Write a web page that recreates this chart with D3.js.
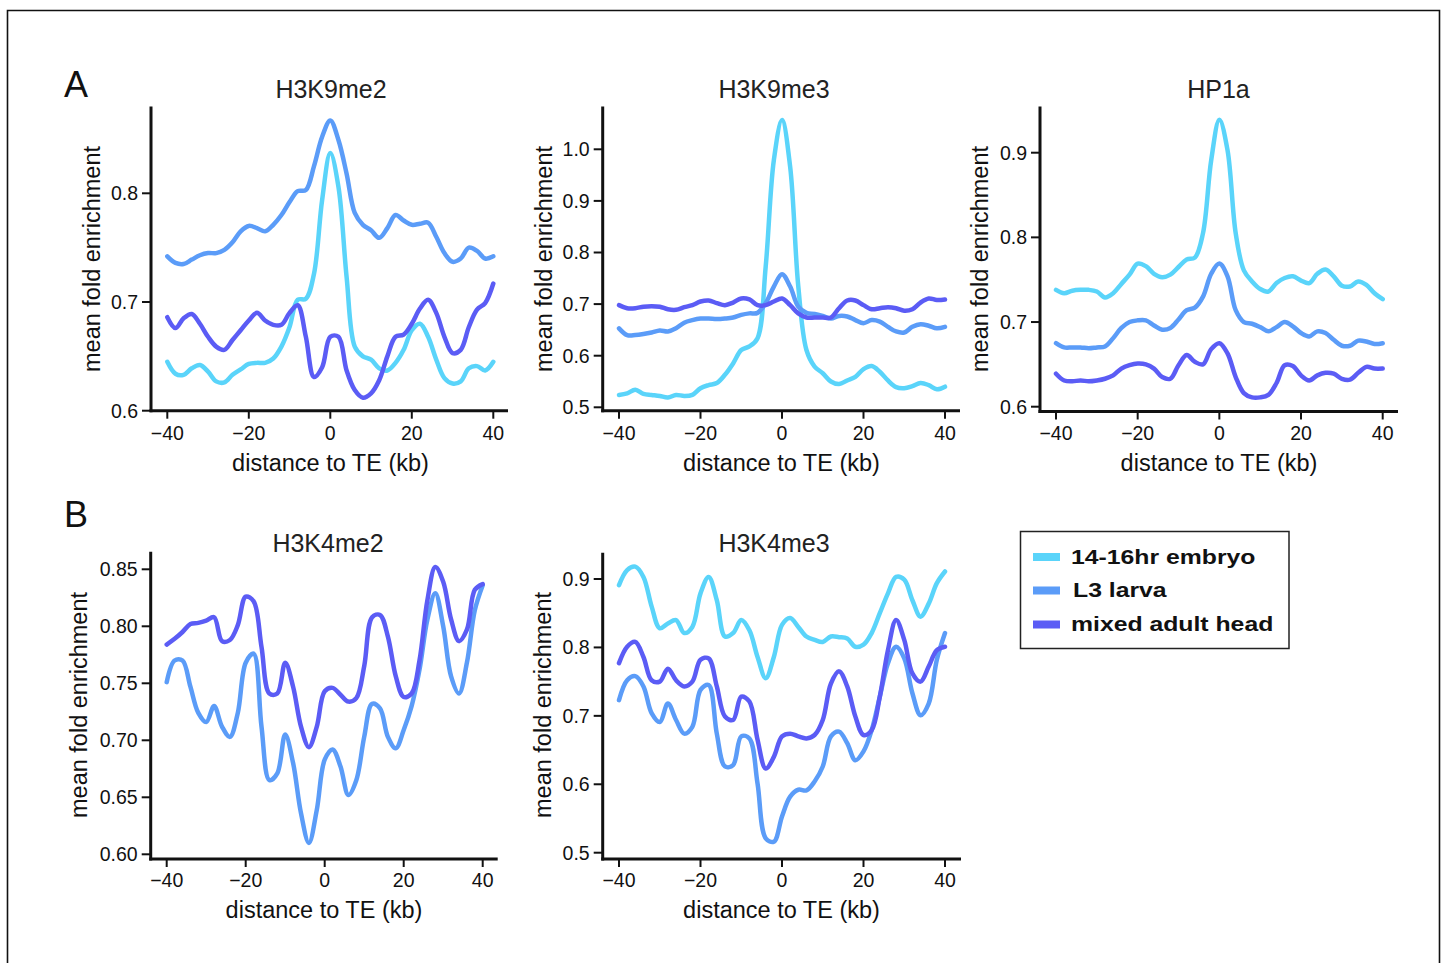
<!DOCTYPE html>
<html><head><meta charset="utf-8">
<script src="https://cdn.jsdelivr.net/npm/d3@7"></script>
<style>
html,body{margin:0;padding:0;background:#fff;}
svg{display:block;font-family:"Liberation Sans",Arial,Helvetica,sans-serif;}
</style></head><body>
<svg id="chart" width="1444" height="963"></svg>
<script>
// ---------------- DATA ----------------
const distanceKb = [-40,-38,-36,-34,-32,-30,-28,-26,-24,-22,-20,-18,-16,-14,-12,-10,-8,-6,-4,-2,0,2,4,6,8,10,12,14,16,18,20,22,24,26,28,30,32,34,36,38,40];
const seriesNames = ["14-16hr embryo","L3 larva","mixed adult head"];
const xTickValues = [-40,-20,0,20,40];
const xTickLabels = ["\u221240","\u221220","0","20","40"];

// H3K9me2
const h3k9me2_embryo = [0.645,0.634,0.633,0.639,0.642,0.636,0.627,0.626,0.633,0.638,0.643,0.644,0.644,0.648,0.659,0.677,0.702,0.703,0.726,0.794,0.837,0.806,0.723,0.659,0.650,0.647,0.639,0.637,0.644,0.656,0.674,0.680,0.668,0.647,0.630,0.625,0.627,0.639,0.641,0.637,0.645];
const h3k9me2_larva  = [0.742,0.736,0.735,0.739,0.743,0.745,0.745,0.748,0.755,0.765,0.770,0.768,0.765,0.771,0.780,0.792,0.802,0.803,0.825,0.852,0.867,0.849,0.818,0.782,0.771,0.766,0.759,0.768,0.780,0.775,0.771,0.772,0.773,0.760,0.745,0.737,0.740,0.750,0.747,0.740,0.742];
const h3k9me2_adult  = [0.686,0.676,0.685,0.689,0.680,0.668,0.659,0.656,0.665,0.674,0.683,0.690,0.683,0.679,0.679,0.690,0.697,0.668,0.631,0.640,0.668,0.668,0.637,0.619,0.612,0.616,0.628,0.650,0.668,0.670,0.680,0.694,0.702,0.690,0.668,0.653,0.656,0.677,0.693,0.699,0.717];
const h3k9me2_ticks = ["0.6","0.7","0.8"];

// H3K9me3
const h3k9me3_embryo = [0.524,0.527,0.534,0.526,0.524,0.522,0.519,0.524,0.522,0.524,0.537,0.543,0.547,0.563,0.585,0.611,0.618,0.634,0.773,0.979,1.057,0.966,0.734,0.611,0.579,0.566,0.550,0.545,0.552,0.559,0.574,0.580,0.569,0.552,0.539,0.537,0.541,0.547,0.543,0.535,0.540];
const h3k9me3_larva  = [0.653,0.640,0.640,0.642,0.645,0.649,0.647,0.653,0.664,0.669,0.672,0.672,0.671,0.672,0.674,0.679,0.682,0.683,0.702,0.734,0.758,0.734,0.695,0.683,0.681,0.677,0.672,0.677,0.676,0.669,0.663,0.669,0.666,0.656,0.647,0.645,0.656,0.661,0.658,0.653,0.656];
const h3k9me3_adult  = [0.698,0.692,0.692,0.695,0.696,0.695,0.690,0.689,0.694,0.698,0.705,0.707,0.702,0.698,0.703,0.711,0.709,0.698,0.698,0.705,0.711,0.698,0.682,0.674,0.674,0.674,0.674,0.692,0.707,0.707,0.698,0.690,0.692,0.694,0.692,0.687,0.690,0.703,0.711,0.708,0.709];
const h3k9me3_ticks = ["0.5","0.6","0.7","0.8","0.9","1.0"];

// HP1a
const hp1a_embryo = [0.738,0.734,0.737,0.738,0.738,0.736,0.729,0.734,0.745,0.756,0.769,0.766,0.757,0.753,0.756,0.765,0.774,0.776,0.805,0.891,0.939,0.903,0.805,0.761,0.748,0.739,0.736,0.746,0.752,0.754,0.749,0.746,0.757,0.762,0.754,0.743,0.742,0.748,0.744,0.734,0.727];
const hp1a_larva  = [0.675,0.670,0.670,0.670,0.669,0.670,0.671,0.681,0.693,0.700,0.702,0.702,0.696,0.691,0.693,0.703,0.714,0.717,0.730,0.757,0.769,0.754,0.714,0.700,0.698,0.694,0.689,0.694,0.700,0.695,0.687,0.683,0.689,0.687,0.679,0.672,0.672,0.678,0.677,0.674,0.675];
const hp1a_adult  = [0.639,0.631,0.630,0.631,0.630,0.631,0.633,0.637,0.645,0.649,0.651,0.650,0.645,0.635,0.633,0.649,0.661,0.653,0.650,0.668,0.675,0.663,0.635,0.616,0.611,0.611,0.614,0.628,0.649,0.648,0.637,0.631,0.637,0.640,0.639,0.633,0.632,0.640,0.647,0.645,0.645];
const hp1a_ticks = ["0.6","0.7","0.8","0.9"];

// H3K4me2 (no embryo series)
const h3k4me2_larva = [0.751,0.770,0.770,0.747,0.724,0.716,0.730,0.712,0.703,0.724,0.768,0.776,0.712,0.665,0.671,0.705,0.680,0.636,0.610,0.639,0.683,0.692,0.677,0.652,0.665,0.703,0.732,0.728,0.703,0.693,0.709,0.730,0.762,0.806,0.829,0.800,0.756,0.741,0.768,0.814,0.836];
const h3k4me2_adult = [0.784,0.789,0.795,0.802,0.803,0.805,0.808,0.787,0.788,0.801,0.826,0.822,0.782,0.741,0.741,0.768,0.747,0.712,0.694,0.712,0.743,0.746,0.740,0.734,0.737,0.765,0.808,0.810,0.791,0.756,0.738,0.741,0.770,0.823,0.852,0.839,0.806,0.787,0.797,0.832,0.837];
const h3k4me2_ticks = ["0.60","0.65","0.70","0.75","0.80","0.85"];

// H3K4me3
const h3k4me3_embryo = [0.891,0.913,0.918,0.903,0.860,0.828,0.835,0.840,0.821,0.830,0.879,0.903,0.869,0.816,0.821,0.840,0.825,0.786,0.755,0.786,0.833,0.843,0.830,0.816,0.811,0.808,0.816,0.815,0.813,0.801,0.804,0.821,0.850,0.879,0.903,0.899,0.869,0.845,0.864,0.894,0.911];
const h3k4me3_larva  = [0.723,0.752,0.758,0.743,0.704,0.691,0.718,0.694,0.674,0.684,0.738,0.745,0.674,0.626,0.628,0.670,0.667,0.601,0.521,0.516,0.553,0.582,0.592,0.591,0.604,0.626,0.670,0.677,0.660,0.635,0.648,0.679,0.728,0.777,0.801,0.784,0.733,0.701,0.718,0.782,0.821];
const h3k4me3_adult  = [0.777,0.801,0.808,0.786,0.752,0.750,0.769,0.752,0.743,0.750,0.782,0.784,0.743,0.699,0.694,0.728,0.721,0.665,0.623,0.640,0.670,0.674,0.670,0.667,0.672,0.694,0.747,0.765,0.743,0.699,0.672,0.679,0.728,0.796,0.840,0.811,0.762,0.750,0.772,0.796,0.801];
const h3k4me3_ticks = ["0.5","0.6","0.7","0.8","0.9"];

// ---------------- STYLE / LAYOUT ----------------
const colors = {"14-16hr embryo":"#5ad4fa","L3 larva":"#5b9cf8","mixed adult head":"#5b5cf5"};

const panels = [
  {title:"H3K9me2", series:[["14-16hr embryo",h3k9me2_embryo],["L3 larva",h3k9me2_larva],["mixed adult head",h3k9me2_adult]], ticks:h3k9me2_ticks,
   ax:151, top:106.5, bottom:410.7, right:508, xr:[167.3,493.3], yr:[410.7,193.3], titleX:331, titleY:98, ylabX:100, ylabY:259, xlabX:330.5, xlabY:471, xtickY:440},
  {title:"H3K9me3", series:[["14-16hr embryo",h3k9me3_embryo],["L3 larva",h3k9me3_larva],["mixed adult head",h3k9me3_adult]], ticks:h3k9me3_ticks,
   ax:602.7, top:106.5, bottom:410.7, right:960, xr:[619,945], yr:[407.3,149.3], titleX:774, titleY:98, ylabX:552, ylabY:259, xlabX:781.5, xlabY:471, xtickY:440},
  {title:"HP1a", series:[["14-16hr embryo",hp1a_embryo],["L3 larva",hp1a_larva],["mixed adult head",hp1a_adult]], ticks:hp1a_ticks,
   ax:1040, top:106.5, bottom:411.5, right:1398, xr:[1056,1382.7], yr:[406.7,152.7], titleX:1218.5, titleY:98, ylabX:988, ylabY:259, xlabX:1219, xlabY:471, xtickY:440},
  {title:"H3K4me2", series:[["L3 larva",h3k4me2_larva],["mixed adult head",h3k4me2_adult]], ticks:h3k4me2_ticks,
   ax:150.7, top:551.7, bottom:859, right:497.7, xr:[166.7,482.7], yr:[854.3,569.3], titleX:328, titleY:551.5, ylabX:87, ylabY:705, xlabX:324, xlabY:918, xtickY:887},
  {title:"H3K4me3", series:[["14-16hr embryo",h3k4me3_embryo],["L3 larva",h3k4me3_larva],["mixed adult head",h3k4me3_adult]], ticks:h3k4me3_ticks,
   ax:602.7, top:552.7, bottom:859, right:961, xr:[619,945], yr:[852.7,579], titleX:774, titleY:551.5, ylabX:551, ylabY:705, xlabX:781.5, xlabY:918, xtickY:887}
];

const svg = d3.select("#chart");

// outer frame (left, top, right; bottom cut off)
svg.append("path").attr("d","M7.5,963 L7.5,10.5 L1439.5,10.5 L1439.5,963")
  .attr("fill","none").attr("stroke","#111").attr("stroke-width",1.6);

// panel letters
svg.append("text").attr("x",64).attr("y",97).attr("font-size",36).attr("fill","#111").text("A");
svg.append("text").attr("x",64).attr("y",527).attr("font-size",36).attr("fill","#111").text("B");

panels.forEach(p => {
  const tv = p.ticks.map(Number);
  const x = d3.scaleLinear().domain([xTickValues[0], xTickValues[xTickValues.length-1]]).range(p.xr);
  const y = d3.scaleLinear().domain([tv[0], tv[tv.length-1]]).range(p.yr);
  const g = svg.append("g");

  // lines
  const line = d3.line().x((d,i)=>x(distanceKb[i])).y(d=>y(d)).curve(d3.curveCatmullRom.alpha(0.5));
  p.series.forEach(([name,vals]) => {
    g.append("path").datum(vals).attr("d",line).attr("fill","none")
      .attr("stroke",colors[name]).attr("stroke-width",4.5)
      .attr("stroke-linejoin","round").attr("stroke-linecap","round");
  });

  // axis lines
  g.append("line").attr("x1",p.ax).attr("x2",p.ax).attr("y1",p.top).attr("y2",p.bottom+1.5)
    .attr("stroke","#111").attr("stroke-width",3);
  g.append("line").attr("x1",p.ax-1.5).attr("x2",p.right).attr("y1",p.bottom).attr("y2",p.bottom)
    .attr("stroke","#111").attr("stroke-width",3);

  // y ticks
  tv.forEach((v,i) => {
    g.append("line").attr("x1",p.ax-9).attr("x2",p.ax).attr("y1",y(v)).attr("y2",y(v))
      .attr("stroke","#111").attr("stroke-width",2);
    g.append("text").attr("x",p.ax-13).attr("y",y(v)).attr("dy","0.35em")
      .attr("text-anchor","end").attr("font-size",19.5).attr("fill","#111").text(p.ticks[i]);
  });
  // x ticks
  xTickValues.forEach((v,i) => {
    g.append("line").attr("x1",x(v)).attr("x2",x(v)).attr("y1",p.bottom).attr("y2",p.bottom+8)
      .attr("stroke","#111").attr("stroke-width",2);
    g.append("text").attr("x",x(v)).attr("y",p.xtickY)
      .attr("text-anchor","middle").attr("font-size",19.5).attr("fill","#111").text(xTickLabels[i]);
  });

  // titles and labels
  g.append("text").attr("x",p.titleX).attr("y",p.titleY).attr("text-anchor","middle")
    .attr("font-size",25).attr("fill","#222").text(p.title);
  g.append("text").attr("x",p.xlabX).attr("y",p.xlabY).attr("text-anchor","middle")
    .attr("font-size",23.5).attr("fill","#111").text("distance to TE (kb)");
  g.append("text").attr("transform",`translate(${p.ylabX},${p.ylabY}) rotate(-90)`)
    .attr("text-anchor","middle").attr("font-size",23.5).attr("fill","#111").text("mean fold enrichment");
});

// legend
const lg = svg.append("g");
lg.append("rect").attr("x",1020.5).attr("y",531.5).attr("width",268.5).attr("height",117)
  .attr("fill","#fff").attr("stroke","#222").attr("stroke-width",1.5);
const legendRowY = [557, 590.5, 624.5];
const legendTextX = [1071, 1073, 1071];
seriesNames.forEach((name,i) => {
  lg.append("rect").attr("x",1033).attr("y",legendRowY[i]-4).attr("width",27).attr("height",8)
    .attr("fill",colors[name]);
  lg.append("text").attr("transform",`translate(${legendTextX[i]},${legendRowY[i]+6.5}) scale(1.18,1)`)
    .attr("font-size",21).attr("font-weight","bold").attr("fill","#111").text(name);
});
</script>
</body></html>
